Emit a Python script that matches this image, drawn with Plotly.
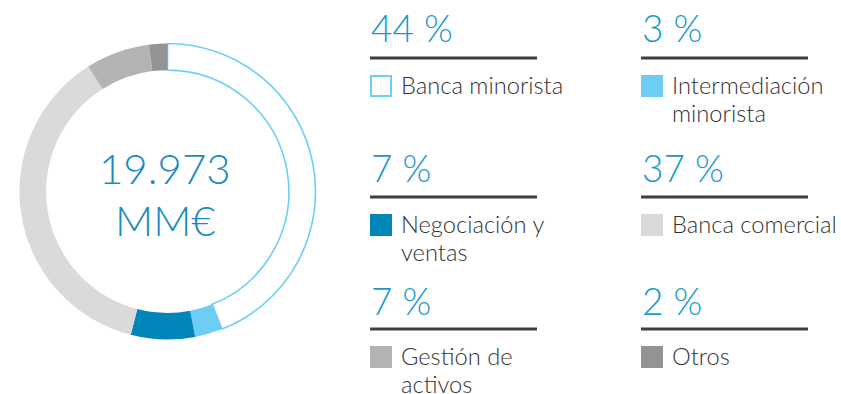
import plotly.graph_objects as go

# Segment data (share of total, %)
segments = ["Banca minorista", "Intermediación minorista", "Negociación y ventas",
            "Banca comercial", "Gestión de activos", "Otros"]
shares = [44, 3, 7, 37, 7, 2]
fill_colors = ["#FFFFFF", "#6DCDF5", "#0086B8", "#DADADA", "#B3B3B3", "#939393"]
line_colors = ["#6DCFF6", "#6DCDF5", "#0086B8", "#DADADA", "#B3B3B3", "#939393"]
line_widths = [1.6, 0, 0, 0, 0, 0]
legend_lines = [["Banca minorista"], ["Intermediación", "minorista"], ["Negociación y", "ventas"],
                ["Banca comercial"], ["Gestión de", "activos"], ["Otros"]]
total_label = "19.973"
total_unit = "MM€"

W, H = 841, 394
BLUE = "#1B97CF"
FONT = "Lato Light, Lato, sans-serif"


def px(x):
    return x / W


def py(y):
    return 1 - y / H


fig = go.Figure()

cx, cy, r = 167.5, 191.5, 148
fig.add_trace(go.Pie(
    labels=segments,
    values=shares,
    sort=False,
    direction="clockwise",
    rotation=0,
    hole=0.82,
    textinfo="none",
    hoverinfo="none",
    showlegend=False,
    marker=dict(colors=fill_colors, line=dict(color=line_colors, width=line_widths)),
    domain=dict(x=[px(cx - r), px(cx + r)], y=[py(cy + r), py(cy - r)]),
))

annotations = []
shapes = []

# Centre total
for text, y in ((total_label, 168), (total_unit, 220)):
    annotations.append(dict(x=px(165), y=py(y), xref="paper", yref="paper", text=text,
                            showarrow=False, xanchor="center", yanchor="middle",
                            font=dict(family=FONT, size=42, color="#1A8BC0", weight=300)))

# Legend grid: two columns, three rows
col_x = [370, 641]
row_pct_y = [28, 167, 300]
row_rule_y = [58, 197, 329]
row_sq_top = [75, 214, 346]
line_step = 28.5

for i, (lines, val) in enumerate(zip(legend_lines, shares)):
    row, col = i // 2, i % 2
    x0 = col_x[col]
    annotations.append(dict(x=px(x0 - 1), y=py(row_pct_y[row]), xref="paper", yref="paper",
                            text=f"{val} %", showarrow=False, xanchor="left", yanchor="middle",
                            font=dict(family=FONT, size=37, color=BLUE, weight=300)))
    shapes.append(dict(type="line", xref="paper", yref="paper",
                       x0=px(x0), x1=px(x0 + 167), y0=py(row_rule_y[row]), y1=py(row_rule_y[row]),
                       line=dict(color="#3F3F3F", width=3)))
    st = row_sq_top[row]
    if i == 0:
        shapes.append(dict(type="rect", xref="paper", yref="paper",
                           x0=px(x0 + 1), x1=px(x0 + 21), y0=py(st + 21), y1=py(st + 1),
                           fillcolor="#FFFFFF", line=dict(color="#6DCFF6", width=2)))
    else:
        shapes.append(dict(type="rect", xref="paper", yref="paper",
                           x0=px(x0), x1=px(x0 + 22), y0=py(st + 22), y1=py(st),
                           fillcolor=fill_colors[i], line=dict(width=0)))
    for k, line in enumerate(lines):
        annotations.append(dict(x=px(x0 + 29), y=py(st + 9.5 + k * line_step), xref="paper",
                                yref="paper", text=line, showarrow=False, xanchor="left",
                                yanchor="middle", align="left",
                                font=dict(family=FONT, size=23.7, color="#333333", weight=300)))

fig.update_layout(
    width=W, height=H,
    margin=dict(l=0, r=0, t=0, b=0),
    paper_bgcolor="white",
    plot_bgcolor="white",
    annotations=annotations,
    shapes=shapes,
)

fig.write_html("out.html")
